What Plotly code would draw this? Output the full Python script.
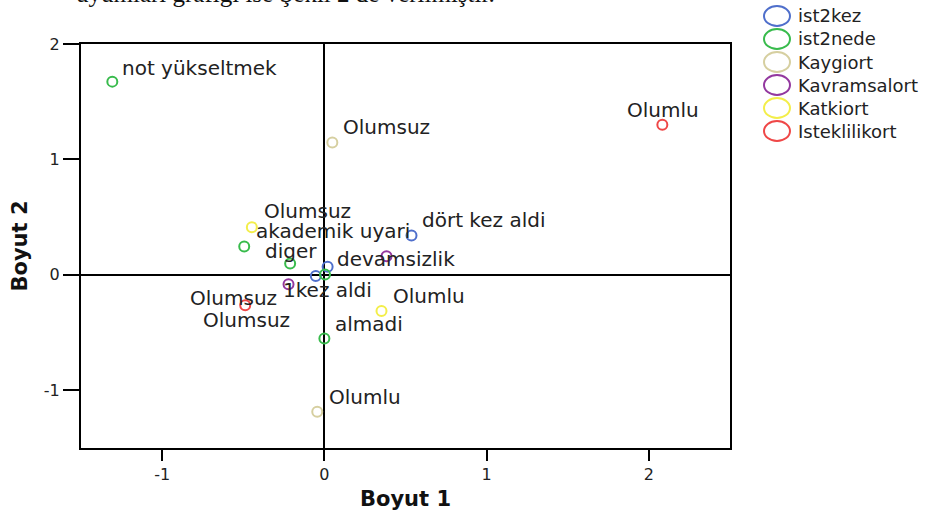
import plotly.graph_objects as go

# ---- data ----
series_names = ["ist2kez", "ist2nede", "Kaygiort", "Kavramsalort", "Katkiort", "Isteklilikort"]

ist2kez_x = [0.537, 0.020, -0.053]
ist2kez_y = [0.341, 0.071, -0.010]
ist2kez_labels = ["dört kez aldi", "", "1kez aldi"]

ist2nede_x = [-1.307, -0.494, -0.211, 0.004, 0.000]
ist2nede_y = [1.674, 0.246, 0.099, 0.004, -0.551]
ist2nede_labels = ["not yükseltmek", "akademik uyari", "diger", "devamsizlik", "almadi"]

kaygiort_x = [0.049, -0.044]
kaygiort_y = [1.147, -1.185]
kaygiort_labels = ["Olumsuz", "Olumlu"]

kavramsalort_x = [0.383, -0.221]
kavramsalort_y = [0.162, -0.082]
kavramsalort_labels = ["", "Olumsuz"]

katkiort_x = [-0.447, 0.352]
katkiort_y = [0.413, -0.313]
katkiort_labels = ["Olumsuz", "Olumlu"]

isteklilikort_x = [2.083, -0.488]
isteklilikort_y = [1.300, -0.263]
isteklilikort_labels = ["Olumlu", "Olumsuz"]

x_ticks = [-1, 0, 1, 2]
y_ticks = [-1, 0, 1, 2]
x_title = "Boyut 1"
y_title = "Boyut 2"
caption_text = "uyumları grafiği ise Şekil 2 de verilmiştir."

# ---- styles ----
W, H = 925, 511
ML, MR, MT, MB = 81, 195, 44, 63
PW, PH = W - ML - MR, H - MT - MB

def px_x(px):
    return (px - ML) / PW

def px_y(py):
    return (H - MB - py) / PH

colors = ["#4f6fcb", "#38bb4c", "#d6cfa0", "#93389f", "#f3ee4a", "#ef4747"]
# label placement per series (xanchor, xshift, yshift)
placements = [
    [("left", 8, 16), ("left", 8, 16), ("center", 12, -14)],
    [("left", 8, 14), ("left", 10, 15), ("center", 1, 12), ("left", 10, 15), ("left", 9, 14)],
    [("left", 9, 15), ("left", 10, 15)],
    [("left", 9, 15), ("right", -10, -14)],
    [("left", 10, 16), ("left", 10, 15)],
    [("center", 1, 15), ("center", 1, -15)],
]

all_x = [ist2kez_x, ist2nede_x, kaygiort_x, kavramsalort_x, katkiort_x, isteklilikort_x]
all_y = [ist2kez_y, ist2nede_y, kaygiort_y, kavramsalort_y, katkiort_y, isteklilikort_y]
all_lab = [ist2kez_labels, ist2nede_labels, kaygiort_labels, kavramsalort_labels,
           katkiort_labels, isteklilikort_labels]

fig = go.Figure()
annotations = []
shapes = []
for i, (name, xs, ys, labs, col, pl) in enumerate(
        zip(series_names, all_x, all_y, all_lab, colors, placements)):
    fig.add_trace(go.Scatter(
        x=xs, y=ys, mode="markers", name=name,
        marker=dict(symbol="circle-open", size=10, color=col, line=dict(width=2, color=col)),
        showlegend=False,
    ))
    for x, y, t, (xa, dx, dy) in zip(xs, ys, labs, pl):
        if not t:
            continue
        annotations.append(dict(
            x=x, y=y, xref="x", yref="y", text=t, showarrow=False,
            xanchor=xa, yanchor="middle", xshift=dx, yshift=dy,
            font=dict(family="DejaVu Sans", size=20, color="#222222"),
        ))
    # manual legend entry
    cy = 16 + 23 * i
    shapes.append(dict(
        type="circle", xref="paper", yref="paper",
        x0=px_x(764), x1=px_x(790), y0=px_y(cy + 10), y1=px_y(cy - 10),
        line=dict(color=col, width=2), fillcolor="rgba(0,0,0,0)",
    ))
    annotations.append(dict(
        x=px_x(796), y=px_y(cy), xref="paper", yref="paper", text=name, showarrow=False,
        xanchor="left", yanchor="middle",
        font=dict(family="DejaVu Sans", size=18, color="#222222"),
    ))

annotations.append(dict(
    x=px_x(497), y=1, xref="paper", yref="paper", text=caption_text, showarrow=False,
    xanchor="right", yanchor="bottom", yshift=MT - 9,
    font=dict(family="Liberation Serif", size=25, color="#111111"),
))

fig.update_layout(
    width=W, height=H,
    margin=dict(l=ML, r=MR, t=MT, b=MB, autoexpand=False),
    paper_bgcolor="white", plot_bgcolor="white",
    annotations=annotations, shapes=shapes,
    showlegend=False,
    font=dict(family="DejaVu Sans", color="#222222"),
)
fig.update_xaxes(
    range=[-1.5, 2.5], tickvals=x_ticks, ticktext=[str(v) for v in x_ticks],
    showline=True, mirror=True, linecolor="black", linewidth=2,
    ticks="outside", ticklen=11, tickwidth=2, tickcolor="black",
    showgrid=False, zeroline=True, zerolinecolor="black", zerolinewidth=1.5,
    tickfont=dict(family="DejaVu Sans", size=16, color="#222222"),
    title=dict(text="<b>" + x_title + "</b>", font=dict(family="DejaVu Sans", size=21, color="#111111"), standoff=8),
    automargin=False,
)
fig.update_yaxes(
    range=[-1.5, 2.0], tickvals=y_ticks, ticktext=[str(v) for v in y_ticks],
    showline=True, mirror=True, linecolor="black", linewidth=2,
    ticks="outside", ticklen=16, tickwidth=2, tickcolor="black",
    showgrid=False, zeroline=True, zerolinecolor="black", zerolinewidth=1.5,
    tickfont=dict(family="DejaVu Sans", size=16, color="#222222"),
    title=dict(text="<b>" + y_title + "</b>", font=dict(family="DejaVu Sans", size=21, color="#111111"), standoff=10),
    automargin=False,
)

fig.write_html("out.html", config={"displayModeBar": False},
               post_script="document.body.style.margin='0';")
